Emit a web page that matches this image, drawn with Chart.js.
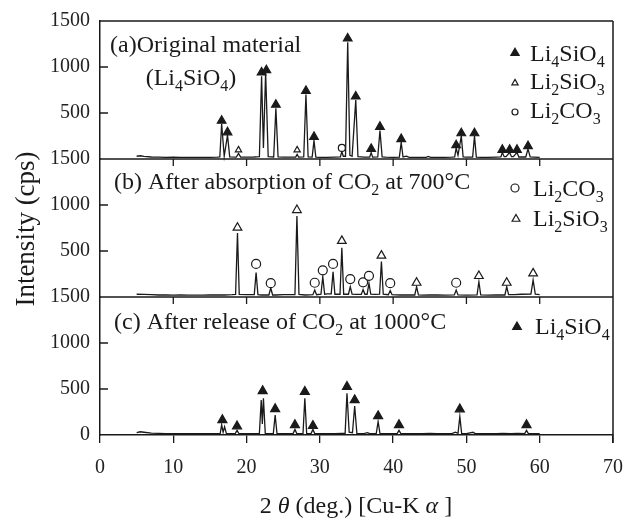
<!DOCTYPE html>
<html><head><meta charset="utf-8">
<script src="https://cdn.jsdelivr.net/npm/chart.js@4/dist/chart.umd.min.js"></script>
<style>html,body{margin:0;padding:0;background:#fff}#wrap{width:626px;height:518px;position:relative}canvas{display:block}</style>
</head><body><div id="wrap"><canvas id="c" width="626" height="518"></canvas></div>
<script>
// ---------------- data ----------------
const xTicks = [0, 10, 20, 30, 40, 50, 60, 70];
const yTicks = [0, 500, 1000, 1500];

// (a) Original material - XRD trace [2theta, cps]
const traceA = [[5,30],[5.5,35],[6,28],[7,22],[8,20],[9,18],[10,20],[11,18],[12,17],[13,18],[14,17],[15,18],[16,20],
 [16.35,22],[16.6,380],[16.95,30],[17.4,260],[17.7,22],[18.6,20],[18.9,60],[19.2,20],
 [20,20],[21,22],[21.75,25],[22.05,900],[22.3,120],[22.6,940],[22.95,25],[23.7,22],[24.0,550],[24.3,22],
 [25,20],[26,20],[26.7,20],[26.9,50],[27.1,20],[27.8,22],[28.1,700],[28.4,22],[28.95,20],[29.2,200],[29.45,20],
 [30,18],[31,18],[32,20],[32.8,22],[33.0,80],[33.2,30],[33.5,30],[33.8,1270],[34.1,40],[34.4,30],[34.9,640],[35.2,25],
 [36,20],[36.8,20],[37.0,70],[37.2,20],[37.9,22],[38.2,310],[38.5,22],[39,20],[40,18],[40.85,20],[41.1,180],[41.35,22],[41.8,30],[42.2,18],
 [43,18],[44.5,18],[44.8,28],[45.1,18],[46,18],[47,18],[48,20],[48.4,22],[48.6,120],[48.85,40],[49.3,250],[49.55,22],
 [50,20],[50.85,20],[51.1,250],[51.35,20],[52,18],[53,18],[54,20],[54.7,22],[54.9,70],[55.15,25],[55.4,25],[55.9,70],[56.15,25],[56.4,25],[56.9,70],[57.15,22],
 [58.1,22],[58.4,110],[58.7,22],[59.2,20],[60,18]];
// (b) After absorption of CO2 at 700 C
const traceB = [[5,30],[6,28],[7,25],[8,22],[9,22],[10,20],[11,22],[12,20],[13,20],[14,20],[15,22],[16,22],[17,22],[18,25],
 [18.5,28],[18.76,695],[19.0,28],[20,25],[21.05,25],[21.3,265],[21.55,25],[22,22],[23.05,22],[23.3,100],[23.55,22],
 [24,22],[25,25],[26.6,25],[26.87,880],[27.15,28],[28,22],[29.05,25],[29.3,76],[29.55,25],
 [30.15,30],[30.4,220],[30.65,30],[31.0,35],[31.55,35],[31.8,275],[32.05,30],[32.75,30],[33.0,536],[33.25,30],
 [33.9,30],[34.15,112],[34.4,30],[35,28],[35.65,28],[35.9,80],[36.15,30],[36.45,30],[36.7,150],[36.95,30],
 [37.5,28],[38.15,30],[38.4,385],[38.65,30],[39.35,25],[39.6,70],[39.85,25],
 [41,22],[42,22],[42.95,22],[43.2,112],[43.45,22],[44,20],[45,22],[46,22],[47,20],[48.35,22],[48.6,76],[48.85,22],
 [50,20],[51.45,22],[51.7,166],[51.95,22],[53,20],[54,22],[55.25,22],[55.5,112],[55.75,25],
 [56.5,25],[57.5,30],[58.8,32],[59.1,185],[59.4,30],[60,25]];
// (c) After release of CO2 at 1000 C
const traceC = [[5,25],[5.5,35],[6,30],[7,20],[8,18],[9,15],[10,15],[11,15],[12,15],[13,15],[14,15],[15,15],[16,15],
 [16.4,15],[16.6,110],[16.8,30],[17.0,90],[17.25,15],[18.45,15],[18.7,50],[18.95,15],
 [20,15],[21,15],[21.75,18],[22.0,380],[22.15,120],[22.3,400],[22.55,18],[23.65,15],[23.9,217],[24.15,15],
 [25,15],[26.35,15],[26.6,60],[26.85,15],[27.7,15],[27.95,400],[28.2,15],[28.8,15],[29.05,60],[29.3,15],
 [30,15],[31,15],[32,15],[33,18],[33.45,18],[33.7,453],[34.0,30],[34.45,25],[34.75,315],[35.05,18],
 [36,15],[36.5,25],[36.8,15],[37.7,18],[37.95,145],[38.2,18],[39,15],[40.55,15],[40.8,50],[41.05,15],
 [42,15],[43,15],[44,15],[45,18],[46,15],[47,15],[48,15],[48.5,30],[48.85,18],[49.1,200],[49.35,15],
 [50,15],[50.9,30],[51.2,15],[52,15],[53,15],[54,15],[55,18],[56,15],[57,18],[57.95,15],[58.2,50],[58.45,15],[59,15],[60,15]];

// phase markers [2theta, cps]
const li4sio4A = [[16.6,416],[17.4,290],[22.05,940],[22.7,965],[24.0,590],[28.1,740],[29.2,240],[33.8,1310],[34.9,680],[37.0,110],[38.2,350],[41.1,217],[48.6,150],[49.3,280],[51.1,280],[54.9,100],[55.9,100],[56.9,100],[58.4,140]];
const li2sio3A = [[18.9,98],[26.9,98]];
const li2co3A  = [[33.0,120]];
const li2co3B  = [[21.3,360],[23.3,150],[29.3,155],[30.4,290],[31.8,360],[34.15,195],[35.9,160],[36.7,230],[39.6,150],[48.6,155]];
const li2sio3B = [[18.76,753],[26.87,945],[33.0,610],[38.4,450],[43.2,155],[51.7,228],[55.5,155],[59.1,257]];
const li4sio4C = [[16.7,163],[18.7,95],[22.2,478],[23.9,283],[26.6,109],[27.95,470],[29.05,100],[33.7,525],[34.75,380],[37.95,206],[40.8,109],[49.1,280],[58.2,109]];

// ---------------- chart ----------------
const FAM = '"Liberation Serif","Times New Roman",serif';
const INK = '#1a1a1a';
const pts = a => a.map(p => ({x: p[0], y: p[1]}));

function traceDS(data, axis) {
  return {type: 'line', data: pts(data), yAxisID: axis, borderColor: INK, borderWidth: 1.3,
    pointRadius: 0, tension: 0, fill: false, order: 2, clip: false};
}
function markDS(data, axis, style, filled, r) {
  return {type: 'line', data: pts(data), yAxisID: axis, showLine: false, pointStyle: style,
    pointRadius: r, pointBackgroundColor: filled ? INK : '#fff', pointBorderColor: INK,
    pointBorderWidth: 1.2, order: 0, clip: false};
}

function yAxis(showZero) {
  return {
    type: 'linear', position: 'left', stack: 'panels', stackWeight: 1, min: 0, max: 1500,
    afterBuildTicks: s => { s.ticks = yTicks.map(v => ({value: v})); },
    afterFit: s => { s.width = 100; s.paddingTop = 0; s.paddingBottom = 0; },
    ticks: {autoSkip: false, padding: 10, color: '#222', font: {family: FAM, size: 20},
      callback: v => (v === 0 && !showZero) ? '' : String(v)},
    grid: {drawOnChartArea: false, drawTicks: false},
    border: {display: true, color: INK, width: 1.5}
  };
}

function drawRich(ctx, parts, x, y, size, align) {
  const fontFor = k => (k === 'i' ? 'italic ' : '') + (k === 's' ? Math.round(size * 0.66) : size) + 'px ' + FAM;
  let w = 0;
  parts.forEach(p => { ctx.font = fontFor(p[1]); w += ctx.measureText(p[0]).width; });
  let cx = align === 'center' ? x - w / 2 : x;
  ctx.textAlign = 'left'; ctx.textBaseline = 'alphabetic';
  parts.forEach(p => {
    ctx.font = fontFor(p[1]);
    ctx.fillText(p[0], cx, y + (p[1] === 's' ? size * 0.24 : 0));
    cx += ctx.measureText(p[0]).width;
  });
}
function marker(ctx, style, filled, x, y, r) {
  ctx.beginPath();
  if (style === 'circle') ctx.arc(x, y, r, 0, Math.PI * 2);
  else {
    for (let i = 0; i < 3; i++) {
      const a = i * 2 * Math.PI / 3;
      const px = x + Math.sin(a) * r, py = y - Math.cos(a) * r;
      i ? ctx.lineTo(px, py) : ctx.moveTo(px, py);
    }
    ctx.closePath();
  }
  ctx.fillStyle = filled ? INK : '#fff';
  ctx.fill();
  ctx.lineWidth = 1.2; ctx.strokeStyle = INK; ctx.stroke();
}

const LI4SIO4 = [['Li','n'],['4','s'],['SiO','n'],['4','s']];
const LI2SIO3 = [['Li','n'],['2','s'],['SiO','n'],['3','s']];
const LI2CO3  = [['Li','n'],['2','s'],['CO','n'],['3','s']];

const decor = {
  id: 'decor',
  afterDraw(chart) {
    const ctx = chart.ctx, ca = chart.chartArea, sc = chart.scales;
    const xs = sc.x;
    ctx.save();
    ctx.strokeStyle = INK; ctx.lineWidth = 1.5;
    // frame + panel boundaries
    ctx.beginPath();
    ctx.moveTo(ca.left, ca.top); ctx.lineTo(ca.right, ca.top);
    ctx.moveTo(ca.right, ca.top); ctx.lineTo(ca.right, ca.bottom + 8);
    [sc.ya.bottom, sc.yb.bottom].forEach(b => { ctx.moveTo(ca.left, b); ctx.lineTo(ca.right, b); });
    ctx.stroke();
    // inward y ticks
    ctx.lineWidth = 1.3;
    ctx.beginPath();
    ['ya','yb','yc'].forEach(id => {
      [500, 1000].forEach(v => { const y = sc[id].getPixelForValue(v); ctx.moveTo(ca.left, y); ctx.lineTo(ca.left + 8, y); });
    });
    // x ticks hanging below panel boundaries
    [sc.ya.bottom, sc.yb.bottom].forEach(b => {
      xTicks.slice(1, -1).forEach(v => { const x = xs.getPixelForValue(v); ctx.moveTo(x, b); ctx.lineTo(x, b + 7); });
    });
    ctx.stroke();

    ctx.fillStyle = INK;
    // panel labels
    drawRich(ctx, [['(a)Original material','n']], 110, 52, 24, 'left');
    drawRich(ctx, [['(Li','n'],['4','s'],['SiO','n'],['4','s'],[')','n']], 191, 85, 24, 'center');
    drawRich(ctx, [['(b) After absorption of CO','n'],['2','s'],[' at 700°C','n']], 114, 189, 24, 'left');
    drawRich(ctx, [['(c) After release of CO','n'],['2','s'],[' at 1000°C','n']], 114, 329, 24, 'left');
    // legends
    marker(ctx, 'triangle', true, 515, 53, 4.8);
    marker(ctx, 'triangle', false, 515, 83, 3.6);
    marker(ctx, 'circle', false, 515, 112, 3);
    ctx.fillStyle = INK;
    drawRich(ctx, LI4SIO4, 530, 61, 24, 'left');
    drawRich(ctx, LI2SIO3, 530, 89, 24, 'left');
    drawRich(ctx, LI2CO3, 530, 118, 24, 'left');
    marker(ctx, 'circle', false, 515, 188, 4);
    marker(ctx, 'triangle', false, 516, 219, 4.5);
    ctx.fillStyle = INK;
    drawRich(ctx, LI2CO3, 533, 196, 24, 'left');
    drawRich(ctx, LI2SIO3, 533, 226, 24, 'left');
    marker(ctx, 'triangle', true, 517, 327, 5);
    ctx.fillStyle = INK;
    drawRich(ctx, LI4SIO4, 535, 334, 24, 'left');
    // axis titles
    drawRich(ctx, [['2 ','n'],['θ','i'],[' (deg.) [Cu-K ','n'],['α','i'],[' ]','n']], 356, 513, 24, 'center');
    ctx.save();
    ctx.translate(34, 229); ctx.rotate(-Math.PI / 2);
    drawRich(ctx, [['Intensity (cps)','n']], 0, 0, 27, 'center');
    ctx.restore();
    ctx.restore();
  }
};

new Chart(document.getElementById('c'), {
  data: {
    datasets: [
      markDS(li4sio4A, 'ya', 'triangle', true, 5),
      markDS(li2sio3A, 'ya', 'triangle', false, 3.6),
      markDS(li2co3A, 'ya', 'circle', false, 3.5),
      markDS(li2co3B, 'yb', 'circle', false, 4.5),
      markDS(li2sio3B, 'yb', 'triangle', false, 5),
      markDS(li4sio4C, 'yc', 'triangle', true, 5.2),
      traceDS(traceA, 'ya'),
      traceDS(traceB, 'yb'),
      traceDS(traceC, 'yc')
    ]
  },
  options: {
    responsive: false, animation: false, devicePixelRatio: 1, events: [],
    layout: {padding: {top: 21, right: 13, bottom: 0, left: 0}},
    plugins: {legend: {display: false}, tooltip: {enabled: false}},
    scales: {
      x: {type: 'linear', position: 'bottom', min: 0, max: 70,
        afterBuildTicks: s => { s.ticks = xTicks.map(v => ({value: v})); },
        afterFit: s => { s.height = 83; s.paddingLeft = 0; s.paddingRight = 0; },
        ticks: {autoSkip: false, padding: 13, color: '#222', font: {family: FAM, size: 20}},
        grid: {drawOnChartArea: false, drawTicks: true, tickLength: 8, color: INK, lineWidth: 1.3},
        border: {display: true, color: INK, width: 1.5}},
      // stacked panels: first defined is placed at the bottom
      yc: yAxis(true),
      yb: yAxis(false),
      ya: yAxis(false)
    }
  },
  plugins: [decor]
});
</script></body></html>
